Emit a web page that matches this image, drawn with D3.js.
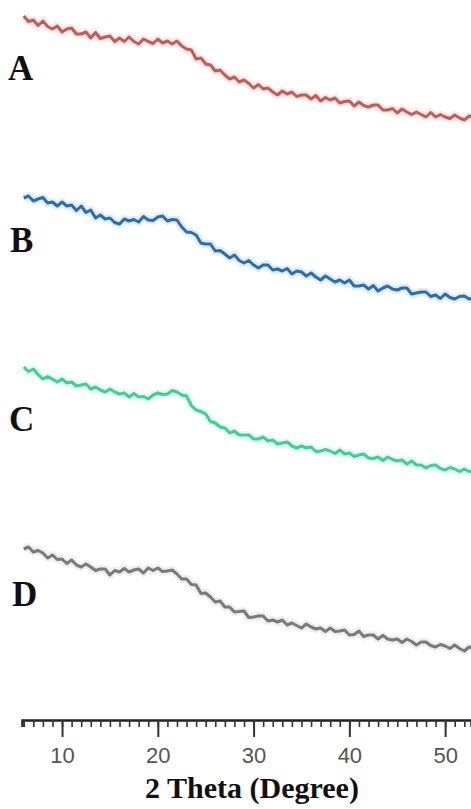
<!DOCTYPE html>
<html lang="en">
<head>
<meta charset="UTF-8">
<title>XRD</title>
<script src="https://cdn.jsdelivr.net/npm/d3@7"></script>
<style>
  body { margin: 0; background: #fff; }
</style>
</head>
<body>
<svg id="chart" width="471" height="809"></svg>
<script>
// scan positions, 2 theta from 6 to 53 degree, step 0.5
let twoTheta = d3.range(6, 53.01, 0.5)

// intensities (a.u., curves already offset for stacking)
let seriesA = [7040,6985,7000,6945,6990,6935,6910,6940,6880,6910,6920,6860,6860,6880,6820,6875,6815,6830,6840,6785,
  6820,6785,6830,6785,6760,6810,6785,6765,6810,6770,6790,6760,6790,6740,6710,6700,6610,6620,6560,6550,
  6490,6500,6450,6410,6430,6380,6400,6365,6320,6355,6310,6320,6280,6250,6290,6260,6280,6235,6250,6250,
  6210,6245,6190,6225,6200,6220,6170,6185,6190,6140,6180,6145,6130,6150,6150,6100,6100,6115,6070,6110,
  6080,6055,6080,6055,6030,6075,6030,6055,6030,6015,6050,6020,6000,6040,6030]
let seriesB = [5220,5240,5190,5210,5225,5170,5180,5140,5180,5140,5150,5095,5140,5075,5100,5020,5050,5010,5020,4975,
  4960,5010,4990,5005,4980,5035,5000,4995,5030,5040,4990,5005,5000,4930,4880,4875,4850,4770,4760,4760,
  4690,4695,4660,4620,4650,4595,4570,4595,4550,4520,4550,4550,4500,4510,4490,4515,4460,4490,4480,4440,
  4470,4430,4400,4440,4410,4380,4400,4370,4400,4340,4340,4350,4310,4345,4290,4320,4340,4310,4300,4320,
  4320,4260,4270,4280,4280,4235,4250,4215,4260,4225,4210,4235,4240,4210,4220]
let seriesC = [3530,3485,3510,3455,3410,3435,3410,3380,3410,3370,3380,3340,3350,3360,3310,3330,3300,3280,3310,3280,
  3260,3270,3230,3265,3230,3235,3210,3250,3270,3255,3260,3295,3280,3250,3240,3145,3100,3085,3060,2985,
  2970,2930,2920,2870,2890,2850,2850,2850,2810,2810,2830,2790,2800,2760,2770,2780,2740,2720,2740,2720,
  2730,2685,2690,2705,2690,2665,2700,2660,2670,2635,2650,2660,2620,2615,2630,2595,2630,2605,2590,2600,
  2560,2590,2550,2550,2520,2545,2550,2515,2500,2525,2510,2485,2510,2485,2490]
let seriesD = [1710,1730,1680,1695,1670,1620,1650,1605,1610,1565,1600,1550,1530,1560,1530,1495,1510,1510,1450,1495,
  1480,1515,1480,1500,1510,1470,1520,1495,1520,1485,1490,1500,1460,1410,1410,1355,1350,1265,1270,1230,
  1180,1190,1130,1130,1080,1085,1090,1025,1030,1040,1040,990,1000,980,1000,950,970,945,920,960,
  930,910,920,885,920,885,890,900,850,855,890,835,850,850,810,845,810,800,810,775,
  810,785,750,780,780,745,730,755,740,715,750,715,690,730,720]

let sampleNames = ['A', 'B', 'C', 'D']
let seriesColors = ['#c65a55', '#2a6fab', '#3fcf95', '#7a7a7a']
let majorTicks = [10, 20, 30, 40, 50]

let allSeries = [seriesA, seriesB, seriesC, seriesD]

let svg = d3.select('#chart')

let x = d3.scaleLinear()
    .domain([5.82, 52.7])
    .range([22, 471])

let y = d3.scaleLinear()
    .domain([0, 7200])
    .range([720, 0])

let line = d3.line()
    .x((d, i) => x(twoTheta[i]))
    .y(d => y(d))

// soft halo first, then the trace itself
allSeries.forEach((s, k) => {
    svg.append('path')
        .attr('d', line(s))
        .attr('fill', 'none')
        .attr('stroke', seriesColors[k])
        .attr('stroke-width', 8)
        .attr('stroke-opacity', 0.13)
        .attr('stroke-linejoin', 'round')
    svg.append('path')
        .attr('d', line(s))
        .attr('fill', 'none')
        .attr('stroke', seriesColors[k])
        .attr('stroke-width', 3)
        .attr('stroke-linejoin', 'round')
})

// sample labels
let labelPos = [[8, 80], [10, 252], [9, 431], [12, 606]]
sampleNames.forEach((n, k) => {
    svg.append('text')
        .text(n)
        .attr('x', labelPos[k][0])
        .attr('y', labelPos[k][1])
        .attr('font-family', '"Liberation Serif", "Times New Roman", serif')
        .attr('font-weight', 'bold')
        .attr('font-size', 35)
        .attr('fill', '#111')
})

// x axis: minor ticks every degree
let minor = d3.axisBottom(x)
    .tickValues(d3.range(6, 53, 1))
    .tickSize(7)
    .tickFormat('')
let gMinor = svg.append('g')
    .attr('transform', 'translate(0,720)')
    .call(minor)
gMinor.select('.domain').attr('stroke', '#222').attr('stroke-width', 2.5)
gMinor.selectAll('.tick line').attr('stroke', '#333').attr('stroke-width', 1.6)

let major = d3.axisBottom(x)
    .tickValues(majorTicks)
    .tickSize(17)
    .tickPadding(10)
let gMajor = svg.append('g')
    .attr('transform', 'translate(0,720)')
    .call(major)
gMajor.select('.domain').remove()
gMajor.selectAll('.tick line').attr('stroke', '#333').attr('stroke-width', 2)
gMajor.selectAll('.tick text')
    .attr('font-family', '"Liberation Sans", Arial, sans-serif')
    .attr('font-size', 22)
    .attr('fill', '#555')

svg.append('text')
    .text('2 Theta (Degree)')
    .attr('x', 252)
    .attr('y', 798)
    .attr('text-anchor', 'middle')
    .attr('font-family', '"Liberation Serif", "Times New Roman", serif')
    .attr('font-weight', 'bold')
    .attr('font-size', 30)
    .attr('fill', '#111')
</script>
</body>
</html>
